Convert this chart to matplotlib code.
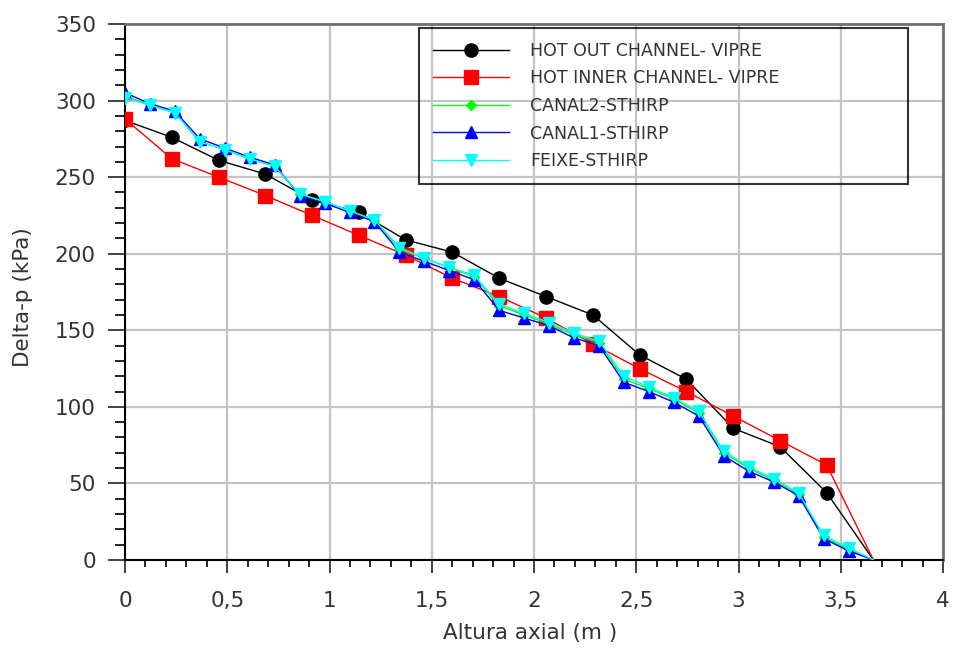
import matplotlib

matplotlib.use("agg")
import matplotlib.pyplot as plt
from matplotlib.ticker import MultipleLocator, FuncFormatter

# VIPRE channels (17 axial nodes)
x_vipre = [0.0, 0.229, 0.458, 0.686, 0.915, 1.144, 1.373, 1.601, 1.83,
           2.059, 2.288, 2.516, 2.745, 2.974, 3.203, 3.431, 3.66]
hot_out = [287, 276, 261, 252, 235, 227, 209, 201, 184,
           172, 160, 134, 118, 86, 74, 44, 0]
hot_inner = [288, 262, 250, 238, 225, 212, 199, 184, 172,
             158, 141, 125, 110, 94, 78, 62, 0]

# STHIRP (31 axial nodes)
x_sthirp = [0.0, 0.122, 0.244, 0.366, 0.488, 0.61, 0.732, 0.854, 0.976, 1.098,
            1.22, 1.342, 1.464, 1.586, 1.708, 1.83, 1.952, 2.074, 2.196, 2.318,
            2.44, 2.562, 2.684, 2.806, 2.928, 3.05, 3.172, 3.294, 3.416, 3.538, 3.66]
canal2 = [303, 297, 292, 273, 268, 262, 257, 239, 234, 228,
          222, 203, 197, 191, 185, 166, 160, 154, 147, 142,
          118, 112, 105, 96, 70, 60, 52, 43, 15, 7, 0]
canal1 = [305, 298, 293, 275, 269, 263, 258, 238, 233, 227,
          221, 201, 195, 189, 183, 163, 158, 153, 145, 140,
          116, 110, 103, 94, 68, 58, 51, 42, 14, 6, 0]
feixe = [302, 297, 292, 273, 268, 262, 257, 239, 234, 228,
         222, 204, 197, 191, 186, 167, 161, 155, 148, 143,
         120, 113, 106, 97, 71, 61, 53, 44, 16, 8, 0]

labels = ["HOT OUT CHANNEL- VIPRE", "HOT INNER CHANNEL- VIPRE",
          "CANAL2-STHIRP", "CANAL1-STHIRP", "FEIXE-STHIRP"]

fig = plt.figure(figsize=(9.55, 6.48), dpi=100)
ax = fig.add_axes([125 / 955, 1 - 560 / 648, 818 / 955, 536 / 648])

skip_last = slice(0, -1)
ax.plot(x_vipre, hot_out, color="black", lw=1, marker="o", ms=9.5,
        markevery=skip_last, label=labels[0], zorder=3)
ax.plot(x_vipre, hot_inner, color="red", lw=1, marker="s", ms=10,
        markevery=skip_last, label=labels[1], zorder=3)
ax.plot(x_sthirp, canal2, color="#00ff00", lw=1, marker="D", ms=5.5,
        markevery=skip_last, label=labels[2], zorder=4)
ax.plot(x_sthirp, canal1, color="blue", lw=1, marker="^", ms=8,
        markevery=skip_last, label=labels[3], zorder=4)
ax.plot(x_sthirp, feixe, color="cyan", lw=1, marker="v", ms=8.5,
        markevery=skip_last, label=labels[4], zorder=5)

ax.set_xlim(0, 4)
ax.set_ylim(0, 350)
ax.xaxis.set_major_locator(MultipleLocator(0.5))
ax.xaxis.set_minor_locator(MultipleLocator(0.1))
ax.yaxis.set_major_locator(MultipleLocator(50))
ax.yaxis.set_minor_locator(MultipleLocator(10))
# comma as decimal separator
ax.xaxis.set_major_formatter(FuncFormatter(lambda v, p: ("%g" % v).replace(".", ",")))

ax.grid(True, which="major", color="#c4c4c4", lw=1.6)
ax.set_axisbelow(True)

ax.tick_params(axis="x", which="major", length=9, width=1.2, pad=13, labelsize=15.5)
ax.tick_params(axis="x", which="minor", length=5, width=1.2)
ax.tick_params(axis="y", which="major", length=12, width=1.2, pad=9, labelsize=15.5)
ax.tick_params(axis="y", which="minor", length=7, width=1.2)
ax.tick_params(colors="#222222", labelcolor="#333333")

for side in ["left", "bottom"]:
    ax.spines[side].set_color("black")
    ax.spines[side].set_linewidth(1.5)
for side in ["top", "right"]:
    ax.spines[side].set_color("#707070")
    ax.spines[side].set_linewidth(2)

ax.set_xlabel("Altura axial (m )", fontsize=15.5, color="#333333")
ax.set_ylabel("Delta-p (kPa)", fontsize=15.5, color="#333333")
ax.xaxis.set_label_coords(0.495, -0.118)
ax.yaxis.set_label_coords(-0.112, 0.49)

leg = ax.legend(loc="upper left", bbox_to_anchor=(0.3594, 0.9925, 0.5977, 0.0),
                mode="expand", borderaxespad=0, fontsize=12.5, numpoints=1,
                handlelength=4.4, handletextpad=1.2, borderpad=0.8,
                labelspacing=0.55, fancybox=False)
leg.get_frame().set_facecolor("none")
leg.get_frame().set_edgecolor("black")
leg.get_frame().set_linewidth(1.5)
for t in leg.get_texts():
    t.set_color("#333333")

fig.savefig("out.png", dpi=100)
